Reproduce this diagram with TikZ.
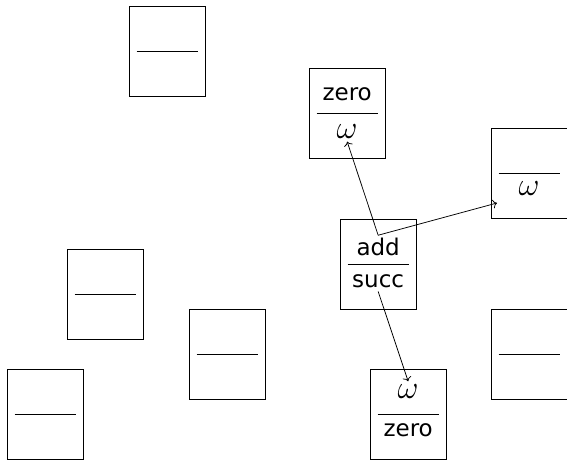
\documentclass[tikz,border=0pt]{standalone}
\usepackage{graphicx}
\usepackage{fontspec}
\setmainfont{DejaVu Sans}
\usetikzlibrary{calc,arrows.meta}

% math omega, slightly enlarged to match the card texts
\newcommand{\bigomega}{\scalebox{1.3}{$\omega$}}

\tikzset{
  card/.style={draw, line width=0.8pt, minimum width=75.5pt, minimum height=90pt,
               inner sep=0pt, anchor=north west},
  cardrule/.style={line width=0.8pt},
  label/.style={anchor=base, inner sep=3pt,
                font=\fontsize{23}{27}\selectfont},
  link/.style={-{To[scale=1.3]}, line width=0.75pt}
}

\begin{document}
\begin{tikzpicture}[x=1pt, y=-1pt]
  \useasboundingbox (0,0) rectangle (567,460);

  % frames of the nine cards
  \node[card] (c1) at (129,6) {};
  \node[card] (c2) at (309,68) {};
  \node[card] (c3) at (491,128) {};
  \node[card] (c4) at (340,218.5) {};
  \node[card] (c5) at (67,248.5) {};
  \node[card] (c6) at (189,309) {};
  \node[card] (c7) at (491,309) {};
  \node[card] (c8) at (7,369) {};
  \node[card] (c9) at (370,369) {};

  % dividing rule across each card
  \foreach \c in {c1,c2,c3,c4,c5,c6,c7,c8,c9}
    \draw[cardrule] ($(\c.west)+(7.5,0)$) -- ($(\c.east)+(-7.5,0)$);

  % card texts
  \node[label] (c2top) at ($(c2.center)+(0,-13)$) {zero};
  \node[label] (c2bot) at ($(c2.center)+(0,25)$) {\bigomega};
  \node[label] (c3bot) at ($(c3.center)+(0,22)$) {\bigomega};
  \node[label] (c4top) at ($(c4.center)+(0,-8)$) {add};
  \node[label] (c4bot) at ($(c4.center)+(0,24)$) {succ};
  \node[label] (c9top) at ($(c9.center)+(0,-16)$) {\bigomega};
  \node[label] (c9bot) at ($(c9.center)+(0,22)$) {zero};

  % links between the cards
  \coordinate (c3in) at (497,203);
  \draw[link] (c4top.north) -- (c2bot.south);
  \draw[link] (c4top.north) -- (c3in);
  \draw[link] (c4bot.south) -- (c9top.north);
\end{tikzpicture}
\end{document}
